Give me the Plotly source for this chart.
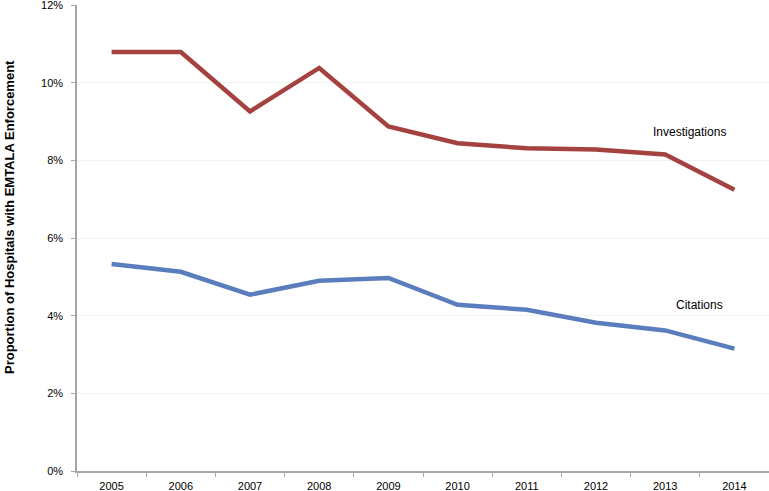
import plotly.graph_objects as go

years = ["2005", "2006", "2007", "2008", "2009", "2010", "2011", "2012", "2013", "2014"]
investigations = [10.79, 10.79, 9.26, 10.38, 8.87, 8.44, 8.31, 8.28, 8.15, 7.24]
citations = [5.33, 5.13, 4.54, 4.90, 4.97, 4.28, 4.15, 3.82, 3.62, 3.15]
y_ticks = [0, 2, 4, 6, 8, 10, 12]
y_tick_labels = ["0%", "2%", "4%", "6%", "8%", "10%", "12%"]

fig = go.Figure()
fig.add_trace(go.Scatter(x=years, y=investigations, mode="lines",
                         line=dict(color="#A4423F", width=4.5), name="Investigations"))
fig.add_trace(go.Scatter(x=years, y=citations, mode="lines",
                         line=dict(color="#5A7DBE", width=4.5), name="Citations"))

fig.add_annotation(x=8.35, y=8.72, text="Investigations", showarrow=False,
                   font=dict(size=12, color="#000000"))
fig.add_annotation(x=8.5, y=4.28, text="Citations", showarrow=False,
                   font=dict(size=12, color="#000000"))
fig.add_annotation(xref="paper", yref="paper", x=-0.112, y=0.545,
                   text="<b>Proportion of Hospitals with EMTALA Enforcement</b>",
                   textangle=-90, showarrow=False,
                   font=dict(size=13, color="#000000"))

fig.update_layout(
    width=769, height=491,
    margin=dict(l=77, r=0, t=5, b=20, autoexpand=False),
    paper_bgcolor="white", plot_bgcolor="white",
    showlegend=False,
    font=dict(family="Liberation Sans, Arial, sans-serif", size=11, color="#000000"),
)
fig.update_xaxes(
    type="category", range=[-0.5, 9.5], automargin=False,
    tickson="boundaries", ticks="outside", ticklen=4, tickcolor="#A6A6A6",
    ticklabelstandoff=4, ticklabeloverflow="allow",
    showline=True, linecolor="#A6A6A6", linewidth=1.5,
    showgrid=False, zeroline=False,
    tickfont=dict(size=11),
)
fig.update_yaxes(
    range=[0, 12], tickvals=y_ticks, ticktext=y_tick_labels, automargin=False,
    ticks="outside", ticklen=4, tickcolor="#A6A6A6",
    ticklabelstandoff=6, ticklabeloverflow="allow",
    showline=True, linecolor="#A6A6A6", linewidth=1.5,
    showgrid=True, gridcolor="#F2F2F2", gridwidth=1,
    zeroline=False,
    tickfont=dict(size=11),
)

fig.write_html("out.html", config={"displayModeBar": False},
               post_script="document.body.style.margin='0';")
